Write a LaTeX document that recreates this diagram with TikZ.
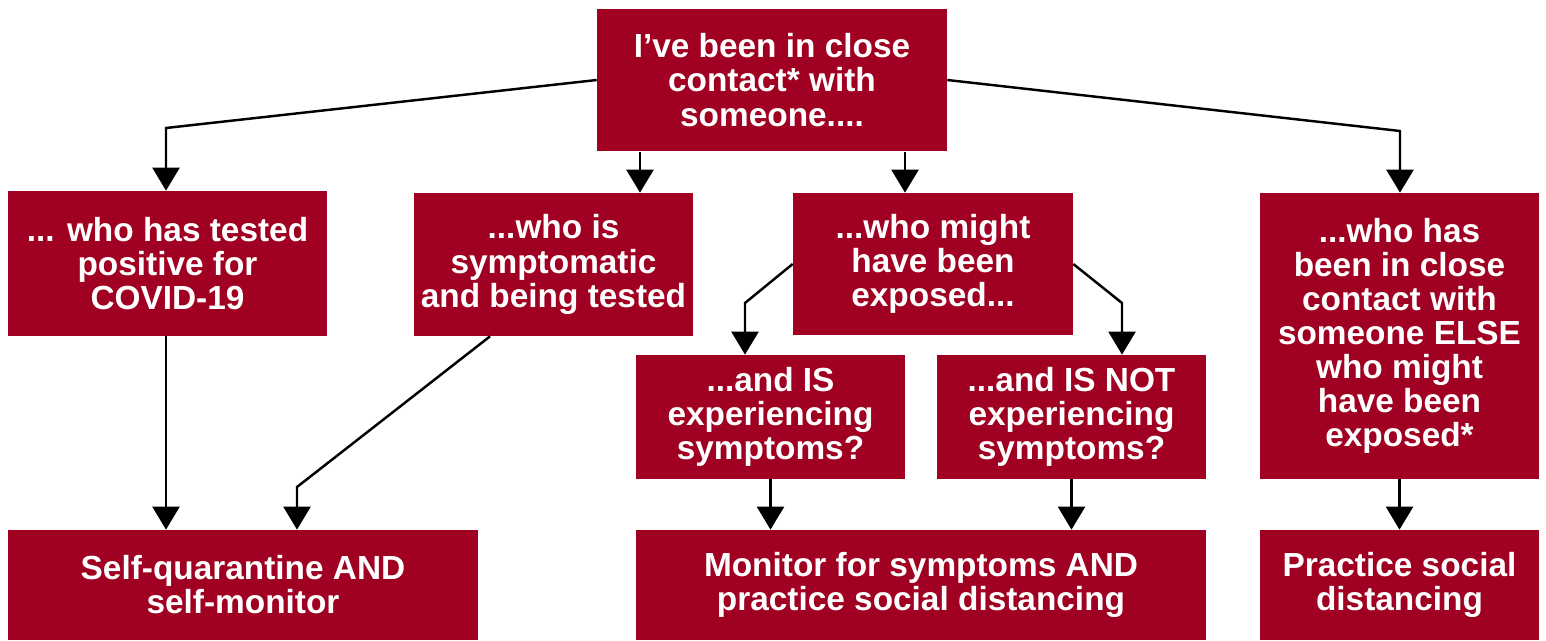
\documentclass[tikz,border=0pt]{standalone}
\usepackage{fontspec}
\setmainfont{Liberation Sans}
\usetikzlibrary{arrows.meta}
\definecolor{cred}{HTML}{A00021}

\begin{document}
\begin{tikzpicture}[x=0.02cm,y=-0.02cm,
  box/.style={fill=cred,text=white,font=\bfseries\fontsize{19}{19.4}\selectfont,align=center,inner sep=0pt},
  arr/.style={-{Triangle[width=0.54cm,length=0.46cm]},line width=1.4pt}]
\useasboundingbox (0,0) rectangle (1546,641);
% the question on top
\node[box,minimum width=7cm,minimum height=2.86cm] (top) at (772,80) {I’ve been in close\\contact* with\\someone....};
% who is that someone
\node[box,minimum width=6.38cm,minimum height=2.9cm] (pos) at (167.5,263.5) {... who has tested\\positive for\\COVID-19};
\node[box,minimum width=5.58cm,minimum height=2.86cm] (symp) at (553.5,264.5) {...who is\\symptomatic\\and being tested};
\node[box,minimum width=5.6cm,minimum height=2.84cm] (expo) at (933,264) {...who might\\have been\\exposed...};
\node[box,minimum width=5.58cm,minimum height=5.72cm] (else) at (1399.5,336) {...who has\\been in close\\contact with\\someone ELSE\\who might\\have been\\exposed*};
\node[box,minimum width=5.38cm,minimum height=2.48cm] (isym) at (770.5,417) {...and IS\\experiencing\\symptoms?};
\node[box,minimum width=5.38cm,minimum height=2.48cm] (nsym) at (1071.5,417) {...and IS NOT\\experiencing\\symptoms?};
% what to do
\node[box,minimum width=9.4cm,minimum height=2.2cm] (quar) at (243,585) {Self-quarantine AND\\self-monitor};
\node[box,minimum width=11.4cm,minimum height=2.2cm] (moni) at (921,585) {Monitor for symptoms AND\\practice social distancing};
\node[box,minimum width=5.58cm,minimum height=2.2cm] (dist) at (1399.5,585) {Practice social\\distancing};
% bends and drop lines
\coordinate (kl) at (166,128);
\coordinate (kr) at (1400,131);
\coordinate (xa) at (640,0);
\coordinate (xb) at (905,0);
\coordinate (ks) at (297,487);
\coordinate (k5) at (745,303);
\coordinate (k6) at (1122,303);
\draw[arr] (top.west) -- (kl) -- (kl |- pos.north);
\draw[arr] (top.south -| xa) -- (symp.north -| xa);
\draw[arr] (top.south -| xb) -- (expo.north -| xb);
\draw[arr] (top.east) -- (kr) -- (kr |- else.north);
\draw[arr] (pos.south -| kl) -- (quar.north -| kl);
\draw[arr] ([xshift=-1.27cm]symp.south) -- (ks) -- (ks |- quar.north);
\draw[arr] (expo.west) -- (k5) -- (k5 |- isym.north);
\draw[arr] (expo.east) -- (k6) -- (k6 |- nsym.north);
\draw[arr] (isym.south) -- (isym.south |- moni.north);
\draw[arr] (nsym.south) -- (nsym.south |- moni.north);
\draw[arr] (else.south) -- (dist.north);
\end{tikzpicture}
\end{document}
